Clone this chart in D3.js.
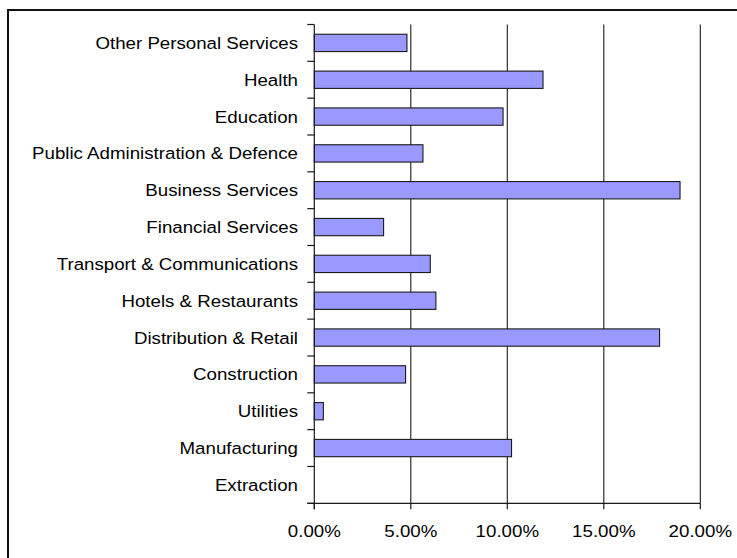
<!DOCTYPE html>
<html>
<head>
<meta charset="utf-8">
<script src="https://cdn.jsdelivr.net/npm/d3@7"></script>
<style>
  html, body { margin: 0; padding: 0; background: #fff; }
  svg { display: block; }
  text { font-family: "Liberation Sans", Arial, sans-serif; fill: #000; }
</style>
</head>
<body>
<svg id="chart" width="737" height="558"></svg>
<script>
// Sectors, listed top to bottom as they appear on the chart
const categories = [
  "Other Personal Services",
  "Health",
  "Education",
  "Public Administration & Defence",
  "Business Services",
  "Financial Services",
  "Transport & Communications",
  "Hotels & Restaurants",
  "Distribution & Retail",
  "Construction",
  "Utilities",
  "Manufacturing",
  "Extraction"
];

// Share of the total for each sector (fraction)
const shares = [
  0.0480, 0.1185, 0.0978, 0.0563, 0.1895, 0.0359, 0.0601,
  0.0630, 0.1789, 0.0473, 0.0047, 0.1022, 0.0000
];

// Value axis ticks
const xTicks = [0, 0.05, 0.10, 0.15, 0.20];

const svg = d3.select("#chart");
const W = 737, H = 558;
const plot = { left: 314.3, right: 700.3, top: 24.5, bottom: 503.3 };
const stretch = 1.1;
const fontSize = 17;

// Outer frame
svg.append("rect")
  .attr("x", 8).attr("y", 10)
  .attr("width", W + 20).attr("height", H + 20)
  .attr("fill", "none").attr("stroke", "#111").attr("stroke-width", 2);

const x = d3.scaleLinear().domain([0, 0.20]).range([plot.left, plot.right]);
const y = d3.scaleBand()
  .domain(categories)
  .range([plot.top, plot.bottom])
  .paddingInner(0.53)
  .paddingOuter(0.265);

// Vertical gridlines
svg.append("g").selectAll("line")
  .data(xTicks.filter(d => d > 0))
  .join("line")
  .attr("x1", d => x(d)).attr("x2", d => x(d))
  .attr("y1", plot.top).attr("y2", plot.bottom)
  .attr("stroke", "#1a1a1a").attr("stroke-width", 1.1);

// Bars
svg.append("g").selectAll("rect")
  .data(categories.map((c, i) => ({ c, v: shares[i] })).filter(d => d.v > 0))
  .join("rect")
  .attr("x", x(0))
  .attr("y", d => y(d.c))
  .attr("width", d => x(d.v) - x(0))
  .attr("height", y.bandwidth())
  .attr("fill", "#9999FF")
  .attr("stroke", "#1a1a1a")
  .attr("stroke-width", 1.1);

// Category axis: line plus ticks on band boundaries
const step = y.step();
const boundaries = d3.range(categories.length + 1).map(i => plot.top + i * step);
const yAxis = svg.append("g");
yAxis.append("line")
  .attr("x1", plot.left).attr("x2", plot.left)
  .attr("y1", plot.top).attr("y2", plot.bottom + 6)
  .attr("stroke", "#1a1a1a").attr("stroke-width", 1.2);
yAxis.selectAll("line.tk")
  .data(boundaries)
  .join("line").attr("class", "tk")
  .attr("x1", plot.left - 7).attr("x2", plot.left)
  .attr("y1", d => d).attr("y2", d => d)
  .attr("stroke", "#1a1a1a").attr("stroke-width", 1.2);

// Category labels
yAxis.selectAll("g.lbl")
  .data(categories)
  .join("g").attr("class", "lbl")
  .attr("transform", d => `translate(298,${y(d) + y.bandwidth() / 2 + 6}) scale(${stretch},1)`)
  .append("text")
  .attr("text-anchor", "end")
  .attr("font-size", fontSize)
  .text(d => d);

// Value axis
const xAxis = svg.append("g");
xAxis.append("line")
  .attr("x1", plot.left - 7).attr("x2", plot.right)
  .attr("y1", plot.bottom).attr("y2", plot.bottom)
  .attr("stroke", "#1a1a1a").attr("stroke-width", 1.2);
xAxis.selectAll("line.tk")
  .data(xTicks)
  .join("line").attr("class", "tk")
  .attr("x1", d => x(d)).attr("x2", d => x(d))
  .attr("y1", plot.bottom).attr("y2", plot.bottom + 6)
  .attr("stroke", "#1a1a1a").attr("stroke-width", 1.2);

const fmt = d3.format(".2%");
xAxis.selectAll("g.lbl")
  .data(xTicks)
  .join("g").attr("class", "lbl")
  .attr("transform", d => `translate(${x(d)},537) scale(${stretch},1)`)
  .append("text")
  .attr("text-anchor", "middle")
  .attr("font-size", fontSize)
  .text(d => fmt(d));
</script>
</body>
</html>
